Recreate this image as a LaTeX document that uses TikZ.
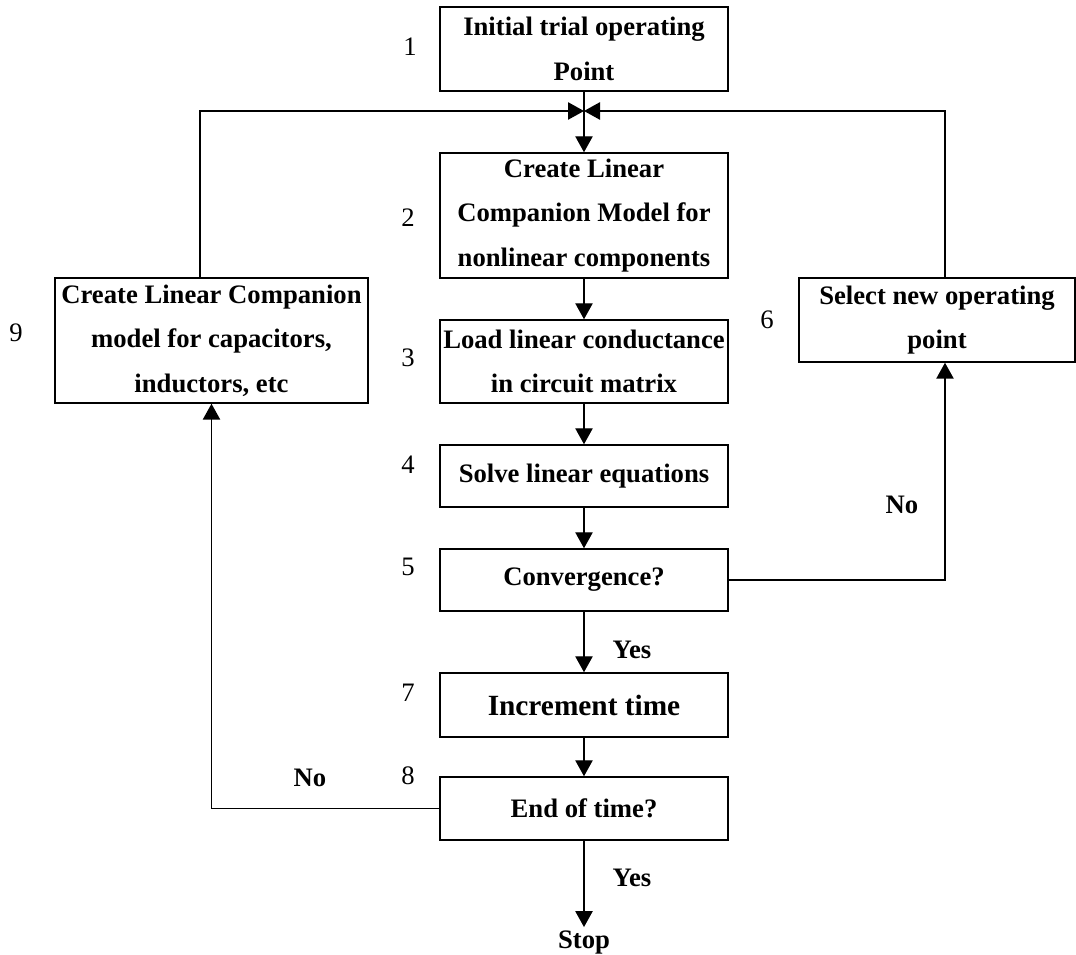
\documentclass[tikz,border=0pt]{standalone}
\usepackage{fontspec}
\setmainfont{Liberation Serif}
\usetikzlibrary{arrows.meta}
\begin{document}
\begin{tikzpicture}[x=0.75pt,y=-0.75pt,
  box/.style={draw,line width=1.1pt,rectangle,inner sep=0pt,align=center,
    minimum width=216pt,font=\fontsize{20}{33.5}\selectfont\bfseries},
  num/.style={font=\fontsize{20}{24}\selectfont,inner sep=0pt},
  lbl/.style={font=\fontsize{20}{24}\selectfont\bfseries,inner sep=0pt},
  arr/.style={line width=1.1pt,-{Triangle[width=13pt,length=12pt]}},
  ln/.style={line width=1.1pt}]
\useasboundingbox (0,0) rectangle (1076,955);
\node[box,minimum height=63pt] (b1) at (584,49) {Initial trial operating\\Point};
\node[box,minimum height=93.75pt] (b2) at (584,215.5) {Create Linear\\Companion Model for\\nonlinear components};
\node[box,minimum height=62.25pt] (b3) at (584,361.5) {Load linear conductance\\in circuit matrix};
\node[box,minimum height=46.5pt] (b4) at (584,476) {Solve linear equations};
\node[box,minimum height=46.5pt] (b5) at (584,580) {Convergence?};
\node[box,minimum height=48pt,font=\fontsize{22}{26}\selectfont\bfseries] (b7) at (584,705) {Increment time};
\node[box,minimum height=47.25pt] (b8) at (584,808.5) {End of time?};
\node[box,minimum height=93.75pt,minimum width=234.75pt] (b9) at (211.5,340.5) {Create Linear Companion\\model for capacitors,\\inductors, etc};
\node[box,minimum height=63pt,minimum width=207pt] (b6) at (937,320) {Select new operating\\point};
\node[lbl] (stop) at (584,943) {Stop};
\coordinate (J) at (584,111);
\node[num] (n1) at (410,47) {1};
\node[num] (n2) at (408,218) {2};
\node[num] (n3) at (408,358) {3};
\node[num] (n4) at (408,465) {4};
\node[num] (n5) at (408,567) {5};
\node[num] (n6) at (767,320) {6};
\node[num] (n7) at (408,693) {7};
\node[num] (n8) at (408,776) {8};
\node[num] (n9) at (16,333) {9};
\node[lbl] (y1) at (632,650) {Yes};
\node[lbl] (y2) at (632,878) {Yes};
\node[lbl] (no1) at (902,505) {No};
\node[lbl] (no2) at (310,778) {No};
\draw[arr] (b1.south) -- (b2.north);
\draw[arr] ([xshift=-8.6pt]b9.north) |- (J);
\draw[arr] ([xshift=6pt]b6.north) |- (J);
\draw[arr] (b2.south) -- (b3.north);
\draw[arr] (b3.south) -- (b4.north);
\draw[arr] (b4.south) -- (b5.north);
\draw[arr] (b5.south) -- (b7.north);
\draw[arr] (b7.south) -- (b8.north);
\draw[arr] (b5.east) -| ([xshift=6pt]b6.south);
\draw[arr] (b8.west) -| (b9.south);
\draw[arr] (b8.south) -- ([yshift=3pt]stop.north);
\end{tikzpicture}
\end{document}
